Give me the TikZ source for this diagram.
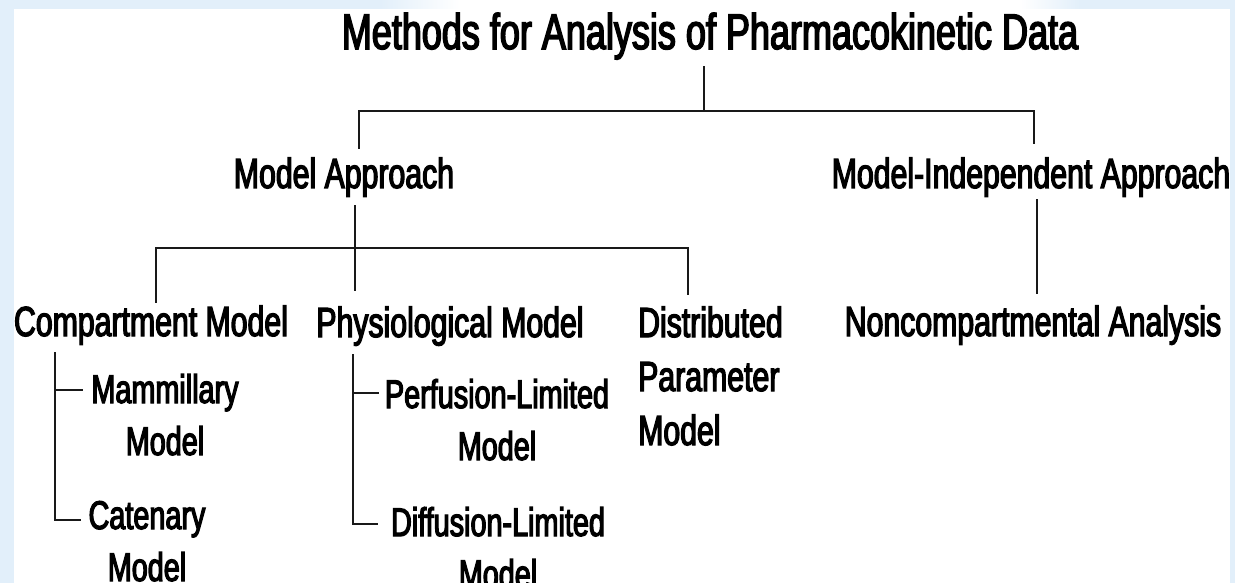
\documentclass[tikz,border=0pt]{standalone}
\usepackage{fontspec}
\setmainfont{Liberation Sans}[FakeStretch=0.72,FakeBold=3]
\usetikzlibrary{calc}
\definecolor{bgblue}{RGB}{226,239,250}
\begin{document}
\begin{tikzpicture}[x=1pt,y=-1pt,
  lbl/.style={inner sep=0pt, anchor=base, align=center},
  ttl/.style={lbl, font=\fontsize{50}{54}\selectfont},
  mid/.style={lbl, font=\fontsize{42}{54}\selectfont},
  sub/.style={lbl, font=\fontsize{40}{52}\selectfont},
  link/.style={line width=2.5pt, black!90, line cap=rect},
]
% frame
\fill[bgblue] (0,0) rectangle (1235,583);
\fill[white] (14,9) rectangle (1230,583);
\shade[left color=bgblue, right color=white] (380,0) rectangle (460,9);
\fill[white] (460,0) rectangle (1020,9);
\shade[left color=white, right color=bgblue] (1020,0) rectangle (1080,9);
\useasboundingbox (0,0) rectangle (1235,583);

% labels (multi-line labels sit on the baseline of their last line)
\node[ttl] (root) at (710,49) {Methods for Analysis of Pharmacokinetic Data};
\node[mid] (model) at (344,188) {Model Approach};
\node[mid] (indep) at (1031,188) {Model-Independent Approach};
\node[mid] (comp) at (151,336) {Compartment Model};
\node[mid] (phys) at (450,337) {Physiological Model};
\node[mid, anchor=base west, align=left] (dist) at (638,445) {Distributed\\Parameter\\Model};
\node[mid] (nonc) at (1033,336) {Noncompartmental Analysis};
\node[sub] (mam) at (165,455) {Mammillary\\Model};
\node[sub] (cat) at (147,581) {Catenary\\Model};
\node[sub] (perf) at (497,460) {Perfusion-Limited\\Model};
\node[sub] (diff) at (498,588) {Diffusion-Limited\\Model};

% bus junctions
\coordinate (rootbus) at (704,111);
\coordinate (modelbus) at (355,248);
\coordinate (cv) at (55,0);
\coordinate (pv) at (353,0);

% first level
\draw[link, shorten <=7.5pt] (root.south -| rootbus) -- (rootbus);
\draw[link, shorten >=10pt] (rootbus -| 359,0) -- ($(model.north -| 359,0)$);
\draw[link, shorten >=15pt] (rootbus -| 359,0) -- (rootbus -| 1034,0) -- (indep.north -| 1034,0);

% second level
\draw[link, shorten <=9pt, shorten >=17pt] (model.south -| modelbus) -- (phys.north -| modelbus);
\draw[link, shorten >=4pt] (modelbus -| 156,0) -- (comp.north -| 156,0);
\draw[link, shorten >=13pt] (modelbus -| 156,0) -- (modelbus -| 688,0) -- (dist.north -| 688,0);
\draw[link, shorten <=3pt, shorten >=13pt] (indep.south -| 1037,0) -- (nonc.north -| 1037,0);

% third level
\draw[link, shorten <=8pt] (comp.south -| cv) -- (cv |- 0,520) -- (80,520);
\draw[link] (cv |- 0,390) -- (82,390);
\draw[link, shorten <=9pt] (phys.south -| pv) -- (pv |- 0,524) -- (377,524);
\draw[link] (pv |- 0,393) -- (378,393);
\end{tikzpicture}
\end{document}
